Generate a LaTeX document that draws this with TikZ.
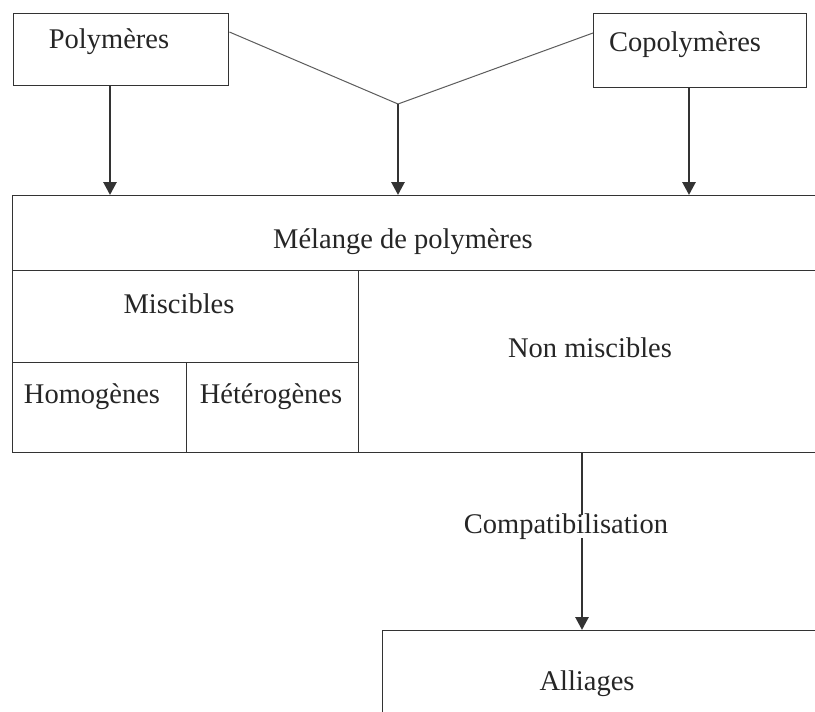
\documentclass[tikz,border=0pt]{standalone}
\usepackage{fontspec}
\setmainfont{Liberation Serif}
\usetikzlibrary{arrows.meta,calc}
\definecolor{ink}{HTML}{333333}
\definecolor{txt}{HTML}{262626}
\begin{document}
\begin{tikzpicture}[x=1pt,y=-1pt,
  cell/.style={draw=ink,line width=1.4pt,rectangle,inner sep=0pt,anchor=north west},
  lbl/.style={text=txt,font=\fontsize{28.5}{32}\selectfont,anchor=base,inner sep=0pt},
  arr/.style={draw=ink,line width=2.8pt,-{Triangle[length=13pt,width=13pt]}},
  thin/.style={draw=ink!80,line width=1pt}]
\useasboundingbox (0,0) rectangle (815,712);
\clip (0,0) rectangle (815,712);
\fill[white] (0,0) rectangle (815,712);
% boxes
\node[cell,minimum width=215pt,minimum height=72pt] (poly) at (13,13) {};
\node[cell,minimum width=213pt,minimum height=74pt] (copoly) at (593,13) {};
\node[cell,minimum width=808pt,minimum height=75pt] (mel) at (12,195) {};
\node[cell,minimum width=346pt,minimum height=92pt] (misc) at (12,270) {};
\node[cell,minimum width=174pt,minimum height=90pt] (homo) at (12,362) {};
\node[cell,minimum width=172pt,minimum height=90pt] (hetero) at (186,362) {};
\node[cell,minimum width=462pt,minimum height=182pt] (nonmisc) at (358,270) {};
\node[cell,minimum width=440pt,minimum height=100pt] (alli) at (382,630) {};
% labels
\node[lbl] (tpoly) at (109,48) {Polymères};
\node[lbl] (tcopoly) at (685,52) {Copolymères};
\node[lbl] (tmel) at (403,248) {Mélange de polymères};
\node[lbl] (tmisc) at (179,313) {Miscibles};
\node[lbl] (thomo) at (92,403) {Homogènes};
\node[lbl] (thetero) at (271,403) {Hétérogènes};
\node[lbl] (tnon) at (590,357) {Non miscibles};
\node[lbl] (tcomp) at (566,533) {Compatibilisation};
\node[lbl] (talli) at (587,690) {Alliages};
% connector points
\coordinate (c1) at (110,0);
\coordinate (c2) at (398,0);
\coordinate (c3) at (689,0);
\coordinate (c4) at (582,0);
\coordinate (j) at (398,104);
% thin joining lines
\draw[thin] ($(poly.north east)+(0,19)$) -- (j) -- ($(copoly.north west)+(0,20)$);
% arrows
\draw[arr] (poly.south -| c1) -- (c1 |- mel.north);
\draw[arr] (j) -- (c2 |- mel.north);
\draw[arr] (copoly.south -| c3) -- (c3 |- mel.north);
\draw[draw=ink,line width=1.1pt] (nonmisc.south -| c4) -- ($(c4 |- tcomp.north)+(0,2)$);
\draw[arr] ($(c4 |- tcomp.south)+(0,-1)$) -- (c4 |- alli.north);
\end{tikzpicture}
\end{document}
